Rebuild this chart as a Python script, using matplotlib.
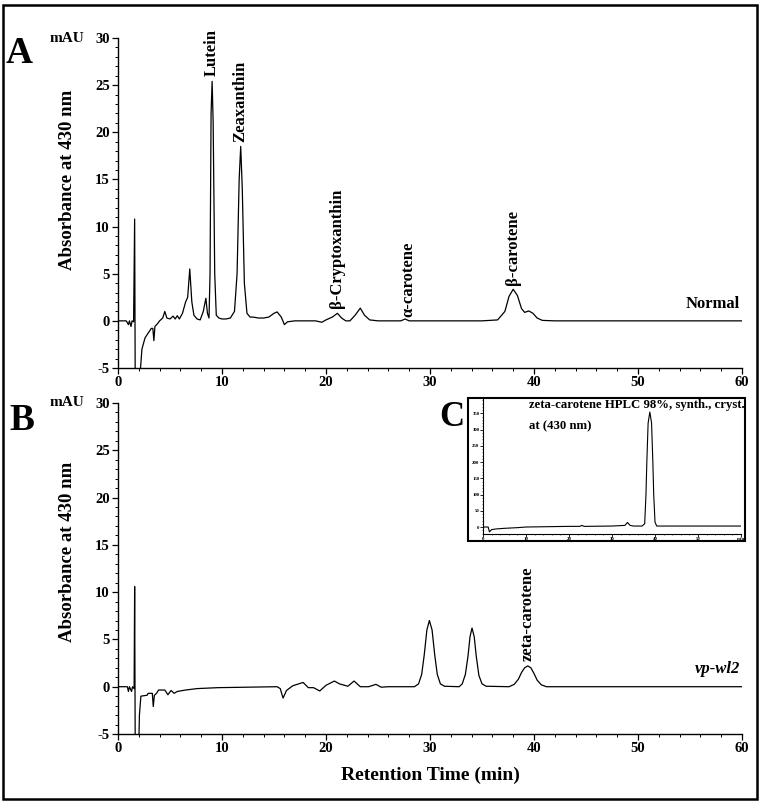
import matplotlib
matplotlib.use("Agg")
import matplotlib.pyplot as plt
from matplotlib.patches import Rectangle
from matplotlib.ticker import MultipleLocator

plt.rcParams['font.family'] = ['Liberation Serif', 'DejaVu Serif']
plt.rcParams['font.weight'] = 'bold'
plt.rcParams['axes.unicode_minus'] = False

# ---------------- data ----------------
# Panel A : "Normal" chromatogram (time in min, absorbance in mAU)
time_a = [0.0, 0.8, 1.0, 1.1, 1.25, 1.35, 1.5, 1.6, 1.66, 2.1, 2.3, 2.6, 2.9, 3.2, 3.35,
          3.45, 3.55, 3.8, 4.0, 4.3, 4.5, 4.7, 5.0, 5.3, 5.5, 5.7, 5.9, 6.2, 6.5, 6.7,
          6.9, 7.1, 7.3, 7.6, 7.9, 8.2, 8.45, 8.6, 8.75, 8.85, 8.95, 9.05, 9.15, 9.3,
          9.45, 9.7, 10.0, 10.4, 10.8, 11.2, 11.45, 11.65, 11.8, 11.95, 12.15, 12.4,
          12.7, 13.0, 13.5, 14.0, 14.5, 15.0, 15.3, 15.7, 16.0, 16.3, 17.0, 18.0, 19.0,
          19.6, 20.0, 20.6, 21.1, 21.5, 21.9, 22.3, 22.8, 23.3, 23.7, 24.2, 25.0, 26.0,
          27.2, 27.6, 28.0, 30.0, 33.0, 35.0, 36.5, 37.2, 37.6, 38.0, 38.4, 38.8, 39.1,
          39.5, 39.9, 40.3, 40.8, 42.0, 60.0]
abs_a = [0.0, 0.0, -0.4, 0.0, -0.6, 0.0, -0.1, 10.8, -8.0, -6.0, -3.0, -1.8, -1.3, -0.8, -0.8,
         -2.1, -0.6, -0.3, 0.0, 0.3, 1.0, 0.3, 0.2, 0.5, 0.2, 0.55, 0.2, 0.8, 2.0, 2.5,
         5.5, 2.0, 0.6, 0.2, 0.1, 1.0, 2.4, 0.8, 0.3, 5.0, 22.0, 25.4, 21.0, 5.0,
         0.6, 0.3, 0.2, 0.2, 0.3, 1.0, 5.0, 15.0, 18.5, 14.0, 4.0, 0.8,
         0.4, 0.4, 0.3, 0.3, 0.4, 0.8, 0.95, 0.4, -0.4, -0.1, 0.0, 0.0, 0.0,
         -0.15, 0.1, 0.4, 0.8, 0.3, 0.0, 0.0, 0.6, 1.35, 0.6, 0.1, 0.0, 0.0,
         0.0, 0.2, 0.0, 0.0, 0.0, 0.0, 0.1, 1.0, 2.6, 3.35, 2.7, 1.3, 0.9,
         1.05, 0.8, 0.3, 0.05, 0.0, 0.0]

# Panel B : "vp-wl2" chromatogram
time_b = [0.0, 0.9, 1.0, 1.1, 1.3, 1.4, 1.55, 1.6, 1.66, 2.0, 2.06, 2.2, 2.8, 2.9, 3.3,
          3.39, 3.5, 3.7, 3.9, 4.5, 4.8, 5.1, 5.4, 5.7, 6.5, 7.6, 9.6, 15.3, 15.6,
          15.87, 16.2, 16.8, 17.8, 18.3, 18.8, 19.4, 20.0, 20.8, 21.3, 22.1, 22.7, 23.3,
          24.1, 24.8, 25.3, 26.0, 28.5, 28.9, 29.2, 29.45, 29.7, 29.94, 30.2, 30.45,
          30.7, 31.0, 31.4, 32.8, 33.1, 33.4, 33.65, 33.85, 34.04, 34.25, 34.45, 34.7,
          35.0, 35.4, 37.6, 38.1, 38.5, 38.8, 39.1, 39.4, 39.7, 40.0, 40.3, 40.7, 41.2, 60.0]
abs_b = [0.0, 0.0, -0.5, 0.0, -0.5, 0.0, -0.2, 10.6, -8.0, -6.0, -3.0, -1.0, -0.9, -0.7, -0.7,
         -2.1, -0.9, -0.7, -0.35, -0.35, -0.85, -0.4, -0.7, -0.5, -0.35, -0.2, -0.1, 0.0, -0.2,
         -1.2, -0.4, 0.1, 0.45, -0.1, -0.1, -0.45, 0.15, 0.6, 0.3, 0.05, 0.6, 0.0,
         0.0, 0.25, -0.05, 0.0, 0.0, 0.3, 1.3, 3.4, 6.0, 7.0, 6.0, 3.4,
         1.3, 0.3, 0.05, 0.0, 0.3, 1.3, 3.2, 5.3, 6.2, 5.3, 3.2, 1.2,
         0.3, 0.05, 0.0, 0.25, 0.8, 1.5, 2.0, 2.2, 2.0, 1.4, 0.7, 0.2, 0.0, 0.0]

# Panel C : zeta-carotene standard
time_c = [0.0, 1.2, 1.5, 1.7, 2.0, 3.0, 5.0, 8.0, 10.0, 15.0, 20.0, 22.5, 23.0, 23.5,
          30.0, 33.0, 33.6, 34.2, 35.0, 37.0, 37.6, 37.9, 38.1, 38.4, 38.8, 39.2,
          39.5, 39.7, 40.0, 40.4, 60.0]
abs_c = [0.0, 0.0, -15.0, -12.0, -8.0, -6.0, -4.0, -2.0, 0.0, 1.0, 2.0, 2.0, 5.0, 2.0,
         3.0, 5.0, 14.0, 5.0, 3.0, 3.0, 10.0, 100.0, 200.0, 320.0, 354.0, 320.0,
         200.0, 100.0, 15.0, 3.0, 3.0]

peaks_a = ["Lutein", "Zeaxanthin", "β-Cryptoxanthin", "α-carotene", "β-carotene"]
peak_a_time = [9.05, 11.8, 21.1, 27.9, 38.0]
peak_a_top = [26.0, 19.0, 1.4, 0.45, 3.8]
peaks_b = ["zeta-carotene"]
peak_b_time = [39.4]
peak_b_top = [2.7]

x_ticks = [0, 10, 20, 30, 40, 50, 60]
y_ticks = [-5, 0, 5, 10, 15, 20, 25, 30]
c_x_ticks = [0, 10, 20, 30, 40, 50, 60]
c_x_labels = ["0", "10", "20", "30", "40", "50", "min"]
c_y_ticks = [0, 50, 100, 150, 200, 250, 300, 350]

# ---------------- figure ----------------
W, H = 763, 802
fig = plt.figure(figsize=(W / 100, H / 100), dpi=100)


def fx(px):
    return px / W


def fy(py):
    return 1 - py / H


def style_main(ax, label_y):
    ax.set_xlim(0, 60)
    ax.set_ylim(-5, 30)
    ax.set_xticks(x_ticks)
    ax.set_yticks(y_ticks)
    ax.xaxis.set_minor_locator(MultipleLocator(2))
    ax.yaxis.set_minor_locator(MultipleLocator(1))
    for s in ("top", "right"):
        ax.spines[s].set_visible(False)
    for s in ("left", "bottom"):
        ax.spines[s].set_linewidth(1.0)
    ax.tick_params(which="major", direction="out", length=4, width=0.9,
                   labelsize=10.5, pad=2)
    ax.tick_params(which="minor", direction="out", length=2, width=0.7)
    for lab in ax.get_xticklabels() + ax.get_yticklabels():
        lab.set_fontweight("bold")
    ax.set_ylabel("Absorbance at 430 nm", fontsize=13.5, fontweight="bold")
    ax.yaxis.set_label_coords(-0.068, label_y)
    ax.text(-0.11, 1.0, "mAU", transform=ax.transAxes, fontsize=11,
            fontweight="bold", ha="left", va="center")


axA = fig.add_axes([fx(118), fy(368), fx(742) - fx(118), fy(38) - fy(368)])
axA.plot(time_a, abs_a, color="black", lw=0.9)
style_main(axA, 0.57)
for name, t, top in zip(peaks_a, peak_a_time, peak_a_top):
    axA.text(t, top, name, rotation=90, ha="center", va="bottom",
             fontsize=12, fontweight="bold")
axA.text(59.8, 0.9, "Normal", ha="right", va="bottom", fontsize=12, fontweight="bold")

axB = fig.add_axes([fx(118), fy(734), fx(742) - fx(118), fy(403) - fy(734)])
axB.plot(time_b, abs_b, color="black", lw=0.9)
style_main(axB, 0.55)
for name, t, top in zip(peaks_b, peak_b_time, peak_b_top):
    axB.text(t, top, name, rotation=90, ha="center", va="bottom",
             fontsize=12, fontweight="bold")
axB.text(59.8, 1.0, "vp-wl2", ha="right", va="bottom", fontsize=12,
         fontweight="bold", style="italic")
axB.set_xlabel("Retention Time (min)", fontsize=14, fontweight="bold", labelpad=8)

# inset box
fig.patches.append(Rectangle((fx(468), fy(541)), fx(745) - fx(468), fy(398) - fy(541),
                             transform=fig.transFigure, facecolor="white",
                             edgecolor="black", lw=1.5, zorder=5))
axC = fig.add_axes([fx(483), fy(534), fx(741) - fx(483), fy(399) - fy(534)], zorder=6)
axC.patch.set_alpha(0)
axC.plot(time_c, abs_c, color="black", lw=0.8)
axC.set_xlim(0, 60)
axC.set_ylim(-21.5, 394)
axC.set_xticks(c_x_ticks)
axC.set_xticklabels(c_x_labels)
axC.set_yticks(c_y_ticks)
axC.xaxis.set_minor_locator(MultipleLocator(2))
axC.yaxis.set_minor_locator(MultipleLocator(10))
for s in ("top", "right"):
    axC.spines[s].set_visible(False)
for s in ("left", "bottom"):
    axC.spines[s].set_linewidth(0.8)
axC.tick_params(which="major", direction="out", length=2, width=0.6,
                labelsize=3.5, pad=0.5)
axC.tick_params(which="minor", direction="out", length=1, width=0.4)
axC.text(0.18, 0.955, "zeta-carotene HPLC 98%, synth., cryst.", transform=axC.transAxes,
         fontsize=9.2, fontweight="bold", ha="left", va="center")
axC.text(0.18, 0.80, "at (430 nm)", transform=axC.transAxes,
         fontsize=9.2, fontweight="bold", ha="left", va="center")

# panel letters
fig.text(fx(6), fy(63), "A", fontsize=27, fontweight="bold", ha="left", va="baseline")
fig.text(fx(9), fy(430), "B", fontsize=27, fontweight="bold", ha="left", va="baseline")
fig.text(fx(439), fy(426), "C", fontsize=25, fontweight="bold", ha="left", va="baseline")

# outer frame
fig.patches.append(Rectangle((fx(3), fy(799)), fx(757) - fx(3), fy(5) - fy(799),
                             transform=fig.transFigure, facecolor="none",
                             edgecolor="black", lw=1.8, zorder=10))

fig.savefig("out.png", dpi=100)
